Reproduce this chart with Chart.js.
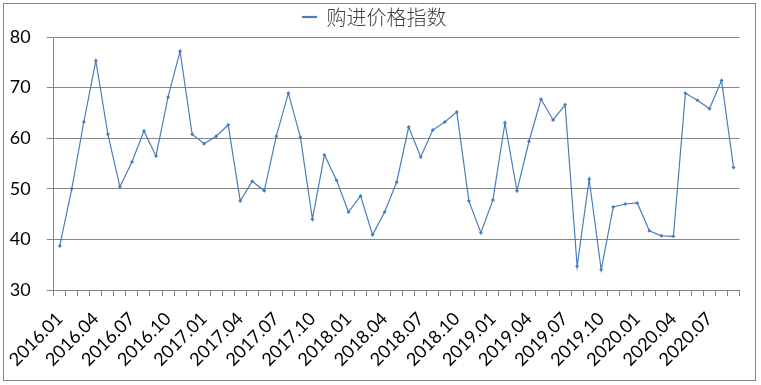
<!DOCTYPE html>
<html>
<head>
<meta charset="utf-8">
<script src="https://cdn.jsdelivr.net/npm/chart.js@4/dist/chart.umd.min.js"></script>
<style>
html, body { margin: 0; padding: 0; background: #fff; }
#wrap { width: 761px; height: 385px; }
</style>
</head>
<body>
<div id="wrap"><canvas id="c" width="761" height="385"></canvas></div>
<script>
// months 2016.01 - 2020.09
const years = [2016, 2017, 2018, 2019, 2020];
const months = [];
years.forEach(y => {
    for (let m = 1; m <= 12; m++) {
        if (y === 2020 && m > 9) break;
        months.push(y + '.' + String(m).padStart(2, '0'));
    }
});
const seriesName = '购进价格指数';
const purchaseIndex = [
    38.7, 50.0, 63.2, 75.3, 60.8, 50.4, 55.3, 61.4, 56.5, 68.1, 77.2, 60.8,
    58.9, 60.4, 62.6, 47.6, 51.5, 49.6, 60.4, 68.9, 60.2, 44.0, 56.7, 51.7,
    45.4, 48.6, 40.9, 45.4, 51.3, 62.2, 56.3, 61.6, 63.2, 65.2, 47.6, 41.3,
    47.8, 63.0, 49.6, 59.4, 67.7, 63.6, 66.6, 34.7, 51.9, 34.0, 46.4, 47.0,
    47.2, 41.7, 40.7, 40.6, 68.9, 67.5, 65.8, 71.4, 54.2
];
const yTicks = [30, 40, 50, 60, 70, 80];

const frame = {
    id: 'frame',
    beforeDraw(chart) {
        const ctx = chart.ctx;
        ctx.save();
        ctx.fillStyle = '#fff';
        ctx.fillRect(0, 0, chart.width, chart.height);
        ctx.strokeStyle = '#868686';
        ctx.lineWidth = 1;
        ctx.strokeRect(3.5, 3.5, 752, 377);
        ctx.restore();
    }
};

new Chart(document.getElementById('c'), {
    type: 'line',
    data: {
        labels: months,
        datasets: [{
            label: seriesName,
            data: purchaseIndex,
            borderColor: '#4a7ebb',
            backgroundColor: '#4a7ebb',
            borderWidth: 1.2,
            pointStyle: 'rectRot',
            pointRadius: 2,
            pointBorderWidth: 0,
            tension: 0
        }]
    },
    options: {
        responsive: false,
        animation: false,
        devicePixelRatio: 1,
        layout: { padding: { top: 1, right: 20, bottom: 6, left: 8 } },
        plugins: {
            legend: {
                position: 'top',
                labels: {
                    color: '#404040',
                    font: { family: '"Noto Sans CJK SC"', size: 20, weight: '300' },
                    boxWidth: 14,
                    boxHeight: 1,
                    padding: 6
                }
            },
            tooltip: { enabled: false }
        },
        scales: {
            x: {
                offset: true,
                grid: {
                    offset: true,
                    drawOnChartArea: false,
                    drawTicks: true,
                    tickLength: 6,
                    color: '#868686'
                },
                border: { color: '#868686' },
                ticks: {
                    autoSkip: false,
                    maxRotation: 45,
                    minRotation: 45,
                    color: '#000',
                    font: { family: 'Lato', size: 18 },
                    padding: 12,
                    callback: (v, i) => (i % 3 === 0 ? months[i] : '')
                },
                afterFit(s) { s.height = 89; }
            },
            y: {
                min: 30,
                max: 80,
                afterBuildTicks(s) { s.ticks = yTicks.map(v => ({ value: v })); },
                grid: { color: '#868686', tickLength: 7 },
                border: { color: '#868686' },
                ticks: {
                    color: '#000',
                    font: { family: 'Lato', size: 18 },
                    padding: 16
                },
                afterFit(s) { s.width = 44; }
            }
        }
    },
    plugins: [frame]
});
</script>
</body>
</html>
